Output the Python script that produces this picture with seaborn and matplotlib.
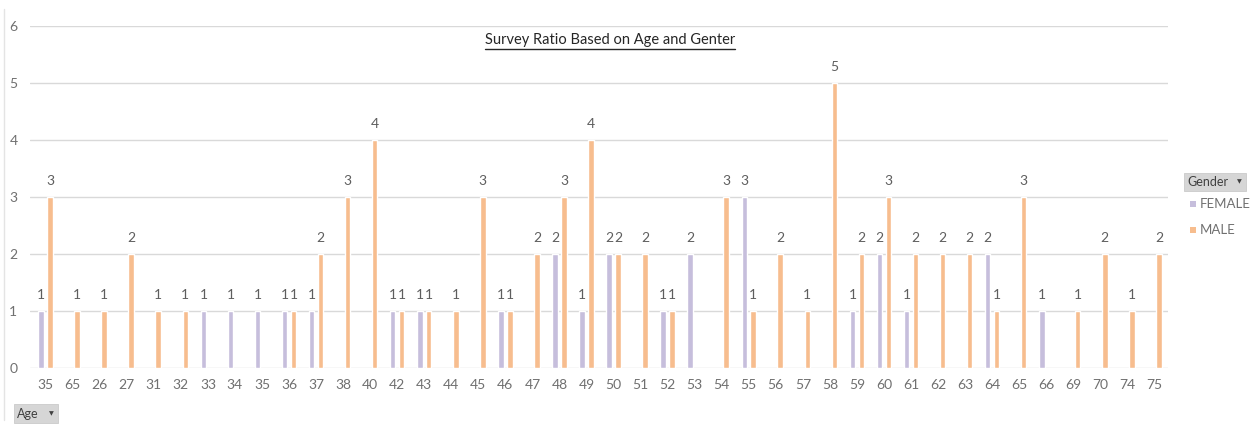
import numpy as np
import pandas as pd
import matplotlib
matplotlib.use("Agg")
import matplotlib.pyplot as plt
from matplotlib.patches import Rectangle
from matplotlib.lines import Line2D
import seaborn as sns

# Age categories as they appear along the axis (pivot order, including repeats)
ages = ["35", "65", "26", "27", "31", "32", "33", "34", "35", "36", "37", "38", "40", "42",
        "43", "44", "45", "46", "47", "48", "49", "50", "51", "52", "53", "54", "55", "56",
        "57", "58", "59", "60", "61", "62", "63", "64", "65", "66", "69", "70", "74", "75"]

# Counts per age category (None = no respondents of that gender)
female = [1, None, None, None, None, None, 1, 1, 1, 1, 1, None, None, 1,
          1, None, None, 1, None, 2, 1, 2, None, 1, 2, None, 3, None,
          None, None, 1, 2, 1, None, None, 2, None, 1, None, None, None, None]
male = [3, 1, 1, 2, 1, 1, None, None, None, 1, 2, 3, 4, 1,
        1, 1, 3, 1, 2, 3, 4, 2, 2, 1, None, 3, 1, 2,
        1, 5, 2, 3, 2, 2, 2, 1, 3, None, 1, 2, 1, 2]

genders = ["FEMALE", "MALE"]
palette = {"FEMALE": "#C6BEDC", "MALE": "#F7BD8E"}

rows = []
for i, (f, m) in enumerate(zip(female, male)):
    if f is not None:
        rows.append({"slot": i, "Gender": "FEMALE", "count": f})
    if m is not None:
        rows.append({"slot": i, "Gender": "MALE", "count": m})
df = pd.DataFrame(rows)

sns.set_theme(style="white")
plt.rcParams["font.family"] = ["Lato", "DejaVu Sans"]

label_gray = "#5E5E5E"
tick_gray = "#707070"
grid_gray = "#D9D9D9"

fig = plt.figure(figsize=(12.53, 4.29), dpi=100)
ax = fig.add_axes([0.0239, 0.1429, 0.9082, 0.7971])

sns.barplot(data=df, x="slot", y="count", hue="Gender", hue_order=genders,
            order=list(range(len(ages))), palette=palette, width=0.66, gap=0.38,
            dodge=True, errorbar=None, saturation=1, ax=ax, legend=False, zorder=3)

for cont in ax.containers:
    ax.bar_label(cont, fmt="%d", padding=7, color=label_gray, fontsize=10)

ax.set_ylim(0, 6)
ax.set_xlim(-0.58, len(ages) - 0.5)
ax.set_yticks(range(0, 7))
ax.set_xticks(range(len(ages)))
ax.set_xticklabels(ages)
ax.yaxis.grid(True, color=grid_gray, linewidth=1, zorder=0)
ax.set_axisbelow(True)
for s in ax.spines.values():
    s.set_visible(False)
ax.tick_params(axis="both", length=0, colors=tick_gray, labelsize=10)
ax.tick_params(axis="x", pad=8)
ax.tick_params(axis="y", pad=9)
ax.set_xlabel("")
ax.set_ylabel("")

# Chart title with underline
title = fig.text(0.4868, 1 - 40 / 429, "Survey Ratio Based on Age and Genter",
                 ha="center", va="center", fontsize=10.5, color="#262626")
fig.canvas.draw()
bb = title.get_window_extent(fig.canvas.get_renderer())
fx0, fx1 = bb.x0 / fig.bbox.width, bb.x1 / fig.bbox.width
fy = (bb.y0 - 1.5) / fig.bbox.height
fig.add_artist(Line2D([fx0, fx1], [fy, fy], transform=fig.transFigure,
                      color="#262626", linewidth=1))

# Pivot field buttons and legend
W, H = 1253, 429
def px(x, y):
    return x / W, 1 - y / H

def field_button(x0, y0, w, h, label):
    fig.add_artist(Rectangle(px(x0, y0 + h), w / W, h / H, transform=fig.transFigure,
                             facecolor="#D6D6D6", edgecolor="#CACACA", linewidth=0.6))
    fig.text(*px(x0 + 3, y0 + h / 2), label, ha="left", va="center",
             fontsize=9, color="#404040")
    fig.text(*px(x0 + w - 7, y0 + h / 2), "▼", ha="center", va="center",
             fontsize=4.5, color="#404040", family="DejaVu Sans")

field_button(1184, 173, 62, 18, "Gender")
field_button(14, 404, 44, 19, "Age")

for k, g in enumerate(genders):
    yc = 204 + 26 * k
    fig.add_artist(Rectangle(px(1190, yc + 3), 6 / W, 6 / H, transform=fig.transFigure,
                             facecolor=palette[g], edgecolor="none"))
    fig.text(*px(1200, yc), g, ha="left", va="center", fontsize=9.5, color=tick_gray)

# faint outer frame edge on the left
fig.add_artist(Line2D([4 / W, 4 / W], [0.02, 0.98], transform=fig.transFigure,
                      color="#E4E4E4", linewidth=1))

fig.savefig("out.png", dpi=100, facecolor="white")
